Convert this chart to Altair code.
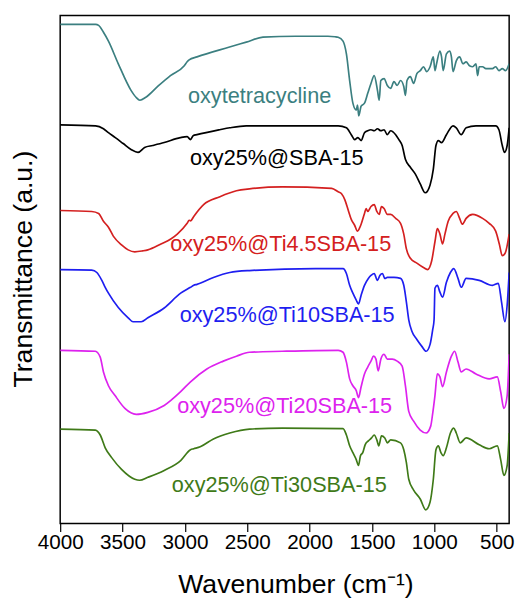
import altair as alt
import pandas as pd

# ---------------- data ----------------
series_names = ["oxytetracycline", "oxy25%@SBA-15", "oxy25%@Ti4.5SBA-15",
                "oxy25%@Ti10SBA-15", "oxy25%@Ti20SBA-15", "oxy25%@Ti30SBA-15"]
series_colors = ["#3b7f80", "#000000", "#d42020", "#1e1ef0", "#dd22ee", "#3f7a18"]

teal_wn = [4000,3850,3716,3692,3653,3613,3534,3432,3392,3361,
           3313,3218,3116,3005,2982,2966,2903,2642,2508,2374,
           2113,1853,1797,1771,1732,1705,1679,1653,1626,1616,
           1606,1587,1560,1534,1508,1482,1456,1442,1429,1403,
           1377,1350,1324,1298,1271,1245,1232,1219,1192,1166,
           1140,1113,1087,1061,1034,1008,995,982,955,942,
           929,903,876,863,850,824,797,771,745,718,
           692,666,653,640,613,587,534,508,482,455,
           429,400]
teal_t = [507,507,507,506,499,490,467,440,433,430,
          433,444,455,465,469,471,474,484,489,494,
          495,495,494.5,494,490,477,450,427,420,425,
          414,424,427,437,447,455,440,430,450,452,
          445,442,449,445,450,444,435,450,454,447,
          457,460,464,459,464,474,460,467,480,474,
          460,477,480,474,459,470,474,467,469,465,
          464,467,455,464,464,462,462,464,460,462,
          460,467]

black_wn = [4000,3716,3653,3613,3558,3495,3432,3376,3323,3258,
            3166,3037,2982,2955,2934,2903,2721,2640,2508,2374,
            1771,1705,1666,1639,1613,1587,1560,1534,1508,1482,
            1456,1429,1403,1377,1350,1310,1284,1258,1232,1192,
            1152,1113,1073,1034,1008,987,968,942,903,850,
            824,784,745,666,508,482,455,437,416,400]
black_t = [405,404,401,397,392,386,380,377,382,384,
           387,392,393,390,394,395,400,402,404,404,
           404,402,395,390,392,389,397,399,400,399,
           401,399,400,395,399,395,390,384,370,362,
           355,345,336,344,360,384,389,387,395,404,
           402,395,402,404,404,400,384,377,384,402]

red_wn = [4000,3747,3692,3653,3613,3574,3508,3455,3402,3337,
          3297,3192,3113,3061,2982,2966,2954,2929,2850,2719,
          2587,2482,2218,1823,1771,1744,1718,1692,1666,1639,
          1616,1600,1587,1560,1547,1534,1508,1482,1461,1442,
          1424,1403,1377,1350,1310,1271,1245,1224,1192,1140,
          1087,1055,1021,994,976,955,934,915,889,850,
          824,797,776,745,692,613,560,508,479,455,
          431,400]
red_t = [318,317,315,307,301,292,283,278,276,277,
         278,284,289,294,305,308,307.5,312,324,332,
         338,340,342,340.5,337,335,329,319,309,303,
         297,300,304,315,320,317,322,324,317,314,
         322,320,314,314,310,305,294,279,269.5,264.5,
         260,258,267,287,299.5,294,284,294,307,315,
         317,310,304,310,314,310,305,297,284,272,
         275,294]

blue_wn = [4000,3747,3706,3666,3639,3613,3534,3455,3416,3350,
           3297,3166,3034,2955,2929,2903,2771,2640,2482,1955,
           1732,1705,1679,1653,1626,1608,1587,1560,1529,1508,
           1482,1456,1437,1416,1397,1377,1324,1271,1245,1224,
           1205,1179,1140,1100,1066,1034,1013,1002,995,976,
           955,934,903,871,844,810,784,745,640,534,
           487,461,434,416,400]
blue_t = [258,257.5,255,247,240,234,219.5,209,205,205,
          209,219,234,240,242,243,250,255,257,259,
          259,254,242,234,227,223,232,242,249,252,
          254,247,252,254,249,250,250,249,242,225,
          207,195,187,180,175,182,197,207,239,242,
          235,230,245,255,259,249,240,249,247,242,
          244,225,205,222,255]

magenta_wn = [4000,3718,3679,3653,3613,3560,3481,3390,3297,3166,
              3034,2955,2824,2692,2587,2482,2218,1771,1732,1705,
              1679,1653,1626,1608,1587,1560,1534,1508,1487,1468,
              1450,1429,1403,1377,1337,1298,1258,1232,1205,1166,
              1113,1066,1029,1013,995,976,955,934,903,863,
              837,810,784,745,666,560,495,468,442,416,
              400]
magenta_t = [176,175,169,154,140,130,117,111,113,120,
             134,144,157,165,170,174,175,176,174,164,
             147,140,135,128,139,152,159,165,170,167,
             155,167,172,167,167,165,160,140,114,104,
             95,92,99,112,130,152,149,139,154,170,
             175,164,154,157,152,147,149,134,117,130,
             172]

green_wn = [4000,3718,3679,3639,3587,3508,3402,3363,3297,3166,
            3034,2955,2929,2877,2771,2640,2482,2218,1732,1705,
            1679,1653,1626,1608,1592,1574,1555,1529,1503,1482,
            1461,1445,1424,1397,1377,1350,1271,1245,1224,1205,
            1166,1113,1069,1034,1008,987,968,947,929,903,
            871,844,824,792,745,640,560,495,468,442,
            416,400]
green_t = [96,95,90,77,67,55,45,44,47,54,
           64,75,76,78,86,92,96,97,96.5,90,
           79,72,65,59,69,72,80,84,87,90,
           85,79,89,87,82,85,82,75,62,45,
           34,25,14,22,45,75,79,72,69,77,
           92,97,92,82,87,80,76,79,65,49,
           59,92]

label_wn = [2401, 2263, 2232, 2180, 2200, 2243]
label_t = [427, 364, 277, 205, 112, 32]

x_tick_values = list(range(500, 4001, 250))

# ---------------- build tables ----------------
all_wn = [teal_wn, black_wn, red_wn, blue_wn, magenta_wn, green_wn]
all_t = [teal_t, black_t, red_t, blue_t, magenta_t, green_t]
frames = []
for name, wn, t in zip(series_names, all_wn, all_t):
    frames.append(pd.DataFrame({"wn": wn, "t": t, "series": name}))
df = pd.concat(frames, ignore_index=True)

labels_df = pd.DataFrame({"wn": label_wn, "t": label_t, "series": series_names,
                          "label": series_names})

FONT = "Liberation Sans"

x_scale = alt.Scale(domain=[400, 4000], reverse=True, nice=False, zero=False)
y_scale = alt.Scale(domain=[0, 516], nice=False, zero=False)
color_scale = alt.Scale(domain=series_names, range=series_colors)

x_axis = alt.Axis(
    values=x_tick_values,
    format="d",
    labelExpr="datum.value % 500 === 0 ? datum.label : ''",
    tickSize={"condition": {"test": "datum.value % 500 === 0", "value": 8}, "value": 5},
    tickColor="black", tickWidth=1.2,
    domain=False, grid=False,
    labelFont=FONT, labelFontSize=21, labelColor="black",
    labelBaseline="alphabetic", labelPadding=17,
    labelFlush=False, labelOverlap=False,
    titleFont=FONT, titleFontSize=27, titleFontWeight="normal", titleColor="black",
    titleX=239, titleY=70, titleBaseline="alphabetic", titleAlign="center",
)
y_axis = alt.Axis(
    labels=False, ticks=False, domain=False, grid=False,
    titleFont=FONT, titleFontSize=27, titleFontWeight="normal", titleColor="black",
    titleX=-29, titleY=257, titleBaseline="alphabetic", titleAlign="center",
    titleAngle=270,
)

lines = alt.Chart(df).mark_line(strokeWidth=1.7, clip=True, interpolate="monotone").encode(
    x=alt.X("wn:Q", scale=x_scale, axis=x_axis, title="Wavenumber (cm\u207b\u00b9)"),
    y=alt.Y("t:Q", scale=y_scale, axis=y_axis, title="Transmittance (a.u.)"),
    color=alt.Color("series:N", scale=color_scale, legend=None),
)

texts = alt.Chart(labels_df).mark_text(
    font=FONT, fontSize=22, align="center", baseline="alphabetic"
).encode(
    x=alt.X("wn:Q", scale=x_scale),
    y=alt.Y("t:Q", scale=y_scale),
    text="label:N",
    color=alt.Color("series:N", scale=color_scale, legend=None),
)

chart = alt.layer(lines, texts).properties(
    width=456, height=516,
    autosize=alt.AutoSizeParams(type="none"),
    padding={"left": 53, "top": 3, "right": 10, "bottom": 76},
    background="white",
).configure_view(stroke="black", strokeWidth=1.5)

chart.save("out.html", embed_options={"renderer": "svg", "actions": False})
